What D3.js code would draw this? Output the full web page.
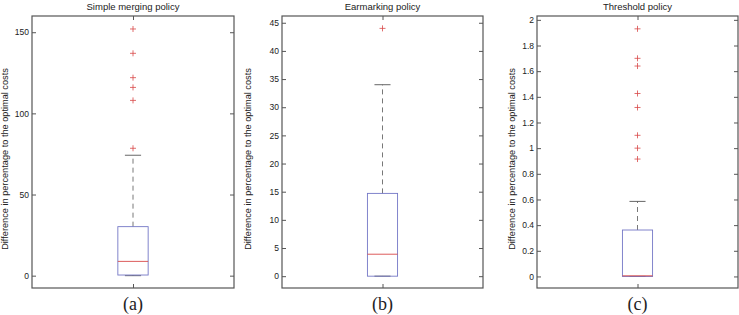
<!DOCTYPE html>
<html><head><meta charset="utf-8">
<script src="https://cdn.jsdelivr.net/npm/d3@7"></script>
<style>
html,body{margin:0;padding:0;background:#fff;}
svg{display:block;}
text{font-family:"Liberation Sans",Arial,Helvetica,sans-serif;fill:#222;}
</style></head><body>
<svg id="chart" width="739" height="315"></svg>
<script>
// ---- data ----
const titles = ["Simple merging policy", "Earmarking policy", "Threshold policy"];
const subLabels = ["(a)", "(b)", "(c)"];
const yLabel = "Difference in percentage to the optimal costs";
const whiskerLow = [0, 0, 0];
const q1 = [0.4, 0, 0];
const medians = [8.8, 3.9, 0.005];
const q3 = [30.2, 14.7, 0.362];
const whiskerHigh = [74.2, 34, 0.585];
const outliers1 = [152, 137, 122, 116, 108, 78.5];
const outliers2 = [44];
const outliers3 = [1.93, 1.70, 1.64, 1.426, 1.317, 1.10, 1.0, 0.915];
const outliers = [outliers1, outliers2, outliers3];
const ticks1 = [0, 50, 100, 150];
const ticks2 = [0, 5, 10, 15, 20, 25, 30, 35, 40, 45];
const ticks3 = [0, 0.2, 0.4, 0.6, 0.8, 1, 1.2, 1.4, 1.6, 1.8, 2];
const tickSets = [ticks1, ticks2, ticks3];
const yDomains = [[-7.6, 160], [-2.1, 46.2], [-0.09, 2.03]];

// ---- layout ----
const panels = [
  {x0: 32, x1: 234, ylabX: 8},
  {x0: 282, x1: 483, ylabX: 251},
  {x0: 537, x1: 738, ylabX: 515}
];
const plotTop = 16, plotBottom = 288;
const svg = d3.select("#chart");
const frame = "#555";
const boxColor = "#7477c6";
const red = "#d84848";
const whiskColor = "#555";

panels.forEach((p, i) => {
  const y = d3.scaleLinear().domain(yDomains[i]).range([plotBottom, plotTop]);
  const x = d3.scaleLinear().domain([0.5, 1.5]).range([p.x0, p.x1]);
  const g = svg.append("g");

  const axL = d3.axisLeft(y).tickValues(tickSets[i]).tickSize(-4).tickPadding(3)
    .tickFormat(d3.format("~g"));
  const gl = g.append("g").attr("transform", `translate(${p.x0},0)`).call(axL);
  gl.select(".domain").remove();
  gl.selectAll("line").attr("stroke", frame);
  gl.selectAll("text").attr("font-size", "8.5px").attr("fill", "#222")
    .attr("font-family", '"Liberation Sans",Arial,sans-serif');
  const axR = d3.axisRight(y).tickValues(tickSets[i]).tickSize(-4).tickFormat("");
  const gr = g.append("g").attr("transform", `translate(${p.x1},0)`).call(axR);
  gr.select(".domain").remove();
  gr.selectAll("line").attr("stroke", frame);
  const axB = d3.axisBottom(x).tickValues([1]).tickSize(-4).tickFormat("");
  const gb = g.append("g").attr("transform", `translate(0,${plotBottom})`).call(axB);
  gb.select(".domain").remove();
  gb.selectAll("line").attr("stroke", frame);
  const axT = d3.axisTop(x).tickValues([1]).tickSize(-4).tickFormat("");
  const gt = g.append("g").attr("transform", `translate(0,${plotTop})`).call(axT);
  gt.select(".domain").remove();
  gt.selectAll("line").attr("stroke", frame);

  g.append("rect").attr("x", p.x0).attr("y", plotTop)
    .attr("width", p.x1 - p.x0).attr("height", plotBottom - plotTop)
    .attr("fill", "none").attr("stroke", frame).attr("stroke-width", 1.2);

  const cx = x(1);
  const hw = x(1.075) - x(1);
  const cw = x(1.04) - x(1);
  g.append("line").attr("x1", cx).attr("x2", cx)
    .attr("y1", y(q3[i])).attr("y2", y(whiskerHigh[i]))
    .attr("stroke", whiskColor).attr("stroke-width", 0.8).attr("stroke-dasharray", "5,4");
  g.append("line").attr("x1", cx).attr("x2", cx)
    .attr("y1", y(q1[i])).attr("y2", y(whiskerLow[i]))
    .attr("stroke", whiskColor).attr("stroke-width", 0.8).attr("stroke-dasharray", "5,4");
  [whiskerHigh[i], whiskerLow[i]].forEach(v => {
    g.append("line").attr("x1", cx - cw).attr("x2", cx + cw)
      .attr("y1", y(v)).attr("y2", y(v)).attr("stroke", whiskColor).attr("stroke-width", 0.9);
  });
  g.append("rect").attr("x", cx - hw).attr("width", 2 * hw)
    .attr("y", y(q3[i])).attr("height", Math.max(0.5, y(q1[i]) - y(q3[i])))
    .attr("fill", "none").attr("stroke", boxColor).attr("stroke-width", 0.9);
  g.append("line").attr("x1", cx - hw).attr("x2", cx + hw)
    .attr("y1", y(medians[i])).attr("y2", y(medians[i]))
    .attr("stroke", red).attr("stroke-width", 0.9);
  outliers[i].forEach(v => {
    const yy = y(v);
    g.append("path").attr("d", `M${cx - 3},${yy}H${cx + 3}M${cx},${yy - 3}V${yy + 3}`)
      .attr("stroke", red).attr("stroke-width", 0.8).attr("fill", "none");
  });

  g.append("text").attr("x", (p.x0 + p.x1) / 2).attr("y", 10)
    .attr("text-anchor", "middle").attr("font-size", "9.5px").text(titles[i]);
  g.append("text").attr("transform", `translate(${p.ylabX},159) rotate(-90)`)
    .attr("text-anchor", "middle").attr("font-size", "9.2px").text(yLabel);
  g.append("text").attr("x", cx).attr("y", 310)
    .attr("text-anchor", "middle").attr("font-size", "18px")
    .style("font-family", '"Liberation Serif","Times New Roman",serif')
    .text(subLabels[i]);
});
</script>
</body></html>
